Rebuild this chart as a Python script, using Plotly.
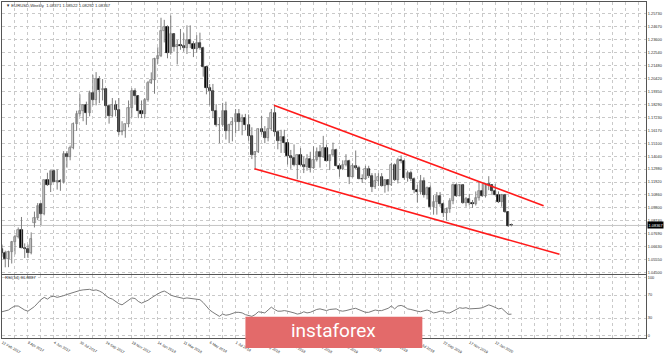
import plotly.graph_objects as go
from plotly.subplots import make_subplots

# ---------------- data (EURUSD weekly) ----------------
date_labels = ["12 Feb 2017", "9 Apr 2017", "4 Jun 2017", "30 Jul 2017", "24 Sep 2017",
               "19 Nov 2017", "14 Jan 2018", "11 Mar 2018", "6 May 2018", "1 Jul 2018",
               "26 Aug 2018", "21 Oct 2018", "16 Dec 2018", "10 Feb 2019", "7 Apr 2019",
               "2 Jun 2019", "28 Jul 2019", "22 Sep 2019", "17 Nov 2019", "12 Jan 2020"]

opens = [1.0640, 1.0615, 1.0560, 1.0620, 1.0700, 1.0740, 1.0800, 1.0650, 1.0640, 1.0615,
         1.0860, 1.0895, 1.1010, 1.0930, 1.1205, 1.1165, 1.1280, 1.1195, 1.1197, 1.1195,
         1.1425, 1.1400, 1.1470, 1.1665, 1.1750, 1.1775, 1.1820, 1.1760, 1.1925, 1.1860,
         1.2035, 1.1945, 1.1950, 1.1815, 1.1730, 1.1825, 1.1785, 1.1605, 1.1610, 1.1665,
         1.1795, 1.1935, 1.1895, 1.1770, 1.1750, 1.1860, 1.2005, 1.2030, 1.2200, 1.2220,
         1.2425, 1.2460, 1.2250, 1.2405, 1.2295, 1.2315, 1.2305, 1.2290, 1.2355, 1.2325,
         1.2280, 1.2330, 1.2290, 1.2130, 1.1960, 1.1940, 1.1770, 1.1655, 1.1660, 1.1770,
         1.1610, 1.1655, 1.1685, 1.1745, 1.1685, 1.1720, 1.1655, 1.1565, 1.1410, 1.1440,
         1.1625, 1.1600, 1.1550, 1.1625, 1.1755, 1.1605, 1.1525, 1.1560, 1.1510, 1.1405,
         1.1385, 1.1335, 1.1415, 1.1335, 1.1315, 1.1380, 1.1305, 1.1370, 1.1440, 1.1395,
         1.1470, 1.1365, 1.1410, 1.1455, 1.1325, 1.1295, 1.1335, 1.1365, 1.1235, 1.1325,
         1.1305, 1.1220, 1.1215, 1.1300, 1.1245, 1.1150, 1.1200, 1.1235, 1.1160, 1.1205,
         1.1170, 1.1335, 1.1210, 1.1370, 1.1365, 1.1225, 1.1270, 1.1220, 1.1125, 1.1110,
         1.1200, 1.1090, 1.1145, 1.0990, 1.1030, 1.1075, 1.1015, 1.0940, 1.0975, 1.1040,
         1.1170, 1.1080, 1.1165, 1.1020, 1.1050, 1.1020, 1.1015, 1.1060, 1.1120, 1.1080,
         1.1175, 1.1165, 1.1120, 1.1090, 1.1025, 1.1090, 1.0945, 1.08371]

highs = [1.0680, 1.0630, 1.0630, 1.0710, 1.0760, 1.0820, 1.0906, 1.0690, 1.0680, 1.0780,
         1.0950, 1.1020, 1.1022, 1.1210, 1.1268, 1.1285, 1.1296, 1.1295, 1.1215, 1.1445,
         1.1445, 1.1490, 1.1680, 1.1776, 1.1910, 1.1830, 1.1850, 1.1940, 1.2070, 1.2092,
         1.2060, 1.2035, 1.1960, 1.1830, 1.1880, 1.1860, 1.1880, 1.1690, 1.1670, 1.1860,
         1.1960, 1.1960, 1.1900, 1.1860, 1.1880, 1.2020, 1.2090, 1.2210, 1.2295, 1.2537,
         1.2520, 1.2475, 1.2555, 1.2410, 1.2355, 1.2445, 1.2410, 1.2475, 1.2475, 1.2345,
         1.2395, 1.2415, 1.2300, 1.2135, 1.1995, 1.1995, 1.1830, 1.1720, 1.1840, 1.1850,
         1.1670, 1.1720, 1.1790, 1.1790, 1.1745, 1.1750, 1.1745, 1.1640, 1.1445, 1.1630,
         1.1735, 1.1650, 1.1720, 1.1790, 1.1815, 1.1615, 1.1620, 1.1620, 1.1545, 1.1455,
         1.1500, 1.1420, 1.1470, 1.1400, 1.1420, 1.1440, 1.1485, 1.1475, 1.1495, 1.1570,
         1.1500, 1.1415, 1.1515, 1.1465, 1.1345, 1.1370, 1.1420, 1.1375, 1.1345, 1.1450,
         1.1325, 1.1255, 1.1325, 1.1325, 1.1265, 1.1265, 1.1265, 1.1265, 1.1215, 1.1215,
         1.1350, 1.1345, 1.1390, 1.1410, 1.1375, 1.1285, 1.1285, 1.1230, 1.1170, 1.1250,
         1.1230, 1.1155, 1.1165, 1.1085, 1.1110, 1.1110, 1.1025, 1.0980, 1.1060, 1.1180,
         1.1180, 1.1175, 1.1175, 1.1070, 1.1095, 1.1045, 1.1115, 1.1200, 1.1175, 1.1185,
         1.1240, 1.1170, 1.1175, 1.1115, 1.1095, 1.1095, 1.0950, 1.08522]

lows = [1.0580, 1.0494, 1.0495, 1.0525, 1.0600, 1.0730, 1.0650, 1.0570, 1.0570, 1.0600,
        1.0820, 1.0880, 1.0840, 1.0920, 1.1160, 1.1110, 1.1190, 1.1130, 1.1120, 1.1180,
        1.1310, 1.1370, 1.1460, 1.1610, 1.1730, 1.1690, 1.1660, 1.1730, 1.1820, 1.1820,
        1.1838, 1.1860, 1.1717, 1.1670, 1.1725, 1.1730, 1.1575, 1.1575, 1.1555, 1.1640,
        1.1720, 1.1830, 1.1715, 1.1715, 1.1715, 1.1850, 1.1995, 1.1915, 1.2160, 1.2215,
        1.2335, 1.2205, 1.2235, 1.2260, 1.2155, 1.2275, 1.2260, 1.2240, 1.2290, 1.2215,
        1.2250, 1.2275, 1.2055, 1.1910, 1.1820, 1.1715, 1.1645, 1.1510, 1.1645, 1.1540,
        1.1510, 1.1525, 1.1590, 1.1610, 1.1575, 1.1615, 1.1530, 1.1380, 1.1300, 1.1430,
        1.1580, 1.1510, 1.1525, 1.1610, 1.1570, 1.1460, 1.1430, 1.1430, 1.1335, 1.1300,
        1.1320, 1.1215, 1.1325, 1.1265, 1.1285, 1.1270, 1.1300, 1.1360, 1.1310, 1.1390,
        1.1360, 1.1290, 1.1405, 1.1320, 1.1235, 1.1290, 1.1320, 1.1175, 1.1230, 1.1295,
        1.1215, 1.1185, 1.1210, 1.1225, 1.1110, 1.1135, 1.1160, 1.1155, 1.1105, 1.1115,
        1.1160, 1.1200, 1.1180, 1.1345, 1.1210, 1.1195, 1.1200, 1.1100, 1.1025, 1.1090,
        1.1065, 1.1050, 1.0965, 1.0925, 1.0925, 1.0990, 1.0905, 1.0880, 1.0940, 1.1010,
        1.1070, 1.1075, 1.1015, 1.0990, 1.1000, 1.0980, 1.1000, 1.1040, 1.1070, 1.1065,
        1.1125, 1.1085, 1.1085, 1.1020, 1.0990, 1.0940, 1.0825, 1.08292]

closes = [1.0615, 1.0560, 1.0620, 1.0700, 1.0740, 1.0800, 1.0650, 1.0640, 1.0615, 1.0725,
          1.0895, 1.0995, 1.0930, 1.1205, 1.1165, 1.1280, 1.1195, 1.1197, 1.1195, 1.1425,
          1.1400, 1.1470, 1.1665, 1.1750, 1.1775, 1.1820, 1.1760, 1.1925, 1.1860, 1.2035,
          1.1945, 1.1950, 1.1815, 1.1730, 1.1825, 1.1785, 1.1605, 1.1610, 1.1665, 1.1795,
          1.1935, 1.1895, 1.1770, 1.1750, 1.1860, 1.2005, 1.2030, 1.2200, 1.2220, 1.2425,
          1.2460, 1.2250, 1.2405, 1.2295, 1.2315, 1.2305, 1.2290, 1.2355, 1.2325, 1.2280,
          1.2330, 1.2290, 1.2130, 1.1960, 1.1940, 1.1770, 1.1655, 1.1660, 1.1770, 1.1610,
          1.1655, 1.1685, 1.1745, 1.1685, 1.1720, 1.1655, 1.1565, 1.1410, 1.1440, 1.1625,
          1.1600, 1.1550, 1.1625, 1.1755, 1.1605, 1.1525, 1.1560, 1.1510, 1.1405, 1.1385,
          1.1335, 1.1415, 1.1335, 1.1315, 1.1380, 1.1305, 1.1370, 1.1440, 1.1395, 1.1470,
          1.1365, 1.1410, 1.1455, 1.1325, 1.1295, 1.1335, 1.1365, 1.1235, 1.1325, 1.1305,
          1.1220, 1.1215, 1.1300, 1.1245, 1.1150, 1.1200, 1.1235, 1.1160, 1.1205, 1.1170,
          1.1335, 1.1210, 1.1370, 1.1365, 1.1225, 1.1270, 1.1220, 1.1125, 1.1110, 1.1200,
          1.1090, 1.1145, 1.0990, 1.1030, 1.1075, 1.1015, 1.0940, 1.0975, 1.1040, 1.1170,
          1.1080, 1.1165, 1.1020, 1.1050, 1.1020, 1.1015, 1.1060, 1.1120, 1.1080, 1.1175,
          1.1165, 1.1120, 1.1090, 1.1025, 1.1090, 1.0945, 1.0830, 1.08367]

rsi_values = [41, 42, 44, 48, 51, 51, 47, 44, 42, 46,
              50, 56, 62, 66, 63, 67, 68, 66, 67, 69,
              71, 73, 75, 77, 78, 79, 79, 80, 78, 79,
              77, 74, 69, 65, 63, 59, 55, 53, 57, 61,
              65, 64, 59, 56, 58, 61, 65, 69, 72, 75,
              77, 74, 70, 68, 67, 65, 64, 65, 64, 63,
              63, 62, 57, 50, 44, 40, 37, 33, 37, 35,
              36, 38, 40, 40, 39, 36, 34, 33, 36, 41,
              40, 39, 44, 49, 45, 42, 42, 43, 42, 41,
              39, 37, 38, 41, 39, 40, 43, 45, 46, 45,
              43, 45, 46, 46, 43, 42, 43, 45, 46, 47,
              45, 42, 40, 40, 42, 44, 43, 43, 45, 47,
              51, 46, 51, 52, 50, 46, 45, 43, 42, 41,
              42, 44, 42, 39, 40, 42, 42, 39, 39, 42,
              46, 48, 47, 48, 46, 46, 46, 47, 48, 51,
              53, 51, 49, 46, 47, 41, 36.5, 36.8887]

price_ticks = [1.25730, 1.24670, 1.23600, 1.22540, 1.21480, 1.20420, 1.19350, 1.18290,
               1.17230, 1.16170, 1.15100, 1.14040, 1.12980, 1.11920, 1.10860, 1.09800,
               1.08740, 1.07690, 1.06630, 1.05550, 1.04500]
rsi_ticks = [0, 30, 70, 100]

# drawn channel (bar index, price) end points
channel_upper_idx = [83.8, 166.9]
channel_upper_px = [1.18209, 1.09989]
channel_lower_idx = [77.8, 171.8]
channel_lower_px = [1.13010, 1.06014]

# ---------------- figure ----------------
n = len(closes)
x_idx = list(range(n))
FONT = "Liberation Sans"
TXT = "#2b2b2b"
GRID = "#c9c9c9"
FRAME = "#555555"

fig = make_subplots(rows=2, cols=1, shared_xaxes=True, vertical_spacing=0.003)

wx, wy = [], []
for i, (h, l) in enumerate(zip(highs, lows)):
    wx += [i, i, None]
    wy += [l, h, None]
fig.add_trace(go.Scatter(x=wx, y=wy, mode="lines", line=dict(color="#7d7d7d", width=1),
                         hoverinfo="skip", showlegend=False), row=1, col=1)

bull = [c >= o for o, c in zip(opens, closes)]
base = [min(o, c) for o, c in zip(opens, closes)]
body = [max(abs(c - o), 0.00012) for o, c in zip(opens, closes)]
fig.add_trace(go.Bar(x=x_idx, y=body, base=base, width=0.66,
                     marker=dict(color=["#e4e4e4" if b else "#000000" for b in bull],
                                 line=dict(color=["#7a7a7a" if b else "#000000" for b in bull],
                                           width=0.7)),
                     showlegend=False, hoverinfo="skip"), row=1, col=1)

for cx, cy in ((channel_upper_idx, channel_upper_px), (channel_lower_idx, channel_lower_px)):
    fig.add_trace(go.Scatter(x=cx, y=cy, mode="lines", line=dict(color="#ff1a1a", width=1.6),
                             showlegend=False, hoverinfo="skip"), row=1, col=1)

fig.add_trace(go.Scatter(x=x_idx, y=rsi_values, mode="lines",
                         line=dict(color="#7a7a7a", width=1), showlegend=False,
                         hoverinfo="skip"), row=2, col=1)

grid_vals = list(range(0, 200, 4))
grid_text = [date_labels[k // 8] if (k % 8 == 0 and k // 8 < len(date_labels)) else ""
             for k in grid_vals]
x_range = [0, 198.46]

axis_common = dict(showline=True, mirror=True, linecolor=FRAME, linewidth=1,
                   showgrid=True, gridcolor=GRID, griddash="dot", gridwidth=1,
                   zeroline=False, ticks="")

fig.update_layout(
    width=665, height=356,
    margin=dict(l=1, r=19, t=1, b=9),
    paper_bgcolor="white", plot_bgcolor="white",
    showlegend=False, bargap=0,
    font=dict(family=FONT, size=4, color=TXT),
    xaxis=dict(range=x_range, tickvals=grid_vals, showticklabels=False, **axis_common),
    xaxis2=dict(range=x_range, tickvals=grid_vals, ticktext=grid_text, showticklabels=True,
                ticklabelposition="outside right",
                tickfont=dict(family=FONT, size=3.7, color=TXT), **axis_common),
    yaxis=dict(domain=[0.1908, 1], range=[1.04400, 1.26660], side="right",
               tickvals=price_ticks, ticktext=[f"{v:.5f}" for v in price_ticks],
               tickfont=dict(family=FONT, size=3.9, color=TXT), **axis_common),
    yaxis2=dict(domain=[0, 0.1879], range=[-4.6, 105.1], side="right",
                tickvals=rsi_ticks, ticktext=[str(v) for v in rsi_ticks],
                tickfont=dict(family=FONT, size=3.9, color=TXT), **axis_common),
)

last = closes[-1]
fig.add_shape(type="line", xref="x domain", yref="y", x0=0, x1=1, y0=last, y1=last,
              line=dict(color="#c4c4c4", width=1), layer="below")

fig.add_annotation(xref="paper", yref="y", x=1, xshift=1, y=last, xanchor="left",
                   yanchor="middle", text=f"{last:.5f}", showarrow=False,
                   bgcolor="#000000", borderpad=0.6,
                   font=dict(family=FONT, size=3.9, color="white"))

fig.add_annotation(xref="paper", yref="paper", x=0.003, y=0.9896, xanchor="left",
                   yanchor="middle", showarrow=False,
                   text=(f"▼ EURUSD,Weekly  {opens[-1]:.5f} {highs[-1]:.5f} "
                         f"{lows[-1]:.5f} {closes[-1]:.5f}"),
                   font=dict(family=FONT, size=4.2, color=TXT))

fig.add_annotation(xref="paper", yref="paper", x=0.002, y=0.1806, xanchor="left",
                   yanchor="middle", showarrow=False,
                   text=f"RSI(14) {rsi_values[-1]:.4f}",
                   font=dict(family=FONT, size=4.2, color=TXT))

# watermark
fig.add_shape(type="rect", xref="paper", yref="paper", x0=0.378, x1=0.6527,
              y0=-0.03, y1=0.0636, fillcolor="#e36a6a", line=dict(width=0), layer="above")
fig.add_annotation(xref="paper", yref="paper", x=0.5147, y=0.0231, xanchor="center",
                   yanchor="middle", showarrow=False, text="instaforex",
                   font=dict(family="Roboto", size=19, color="white"))

fig.write_html("out.html")
